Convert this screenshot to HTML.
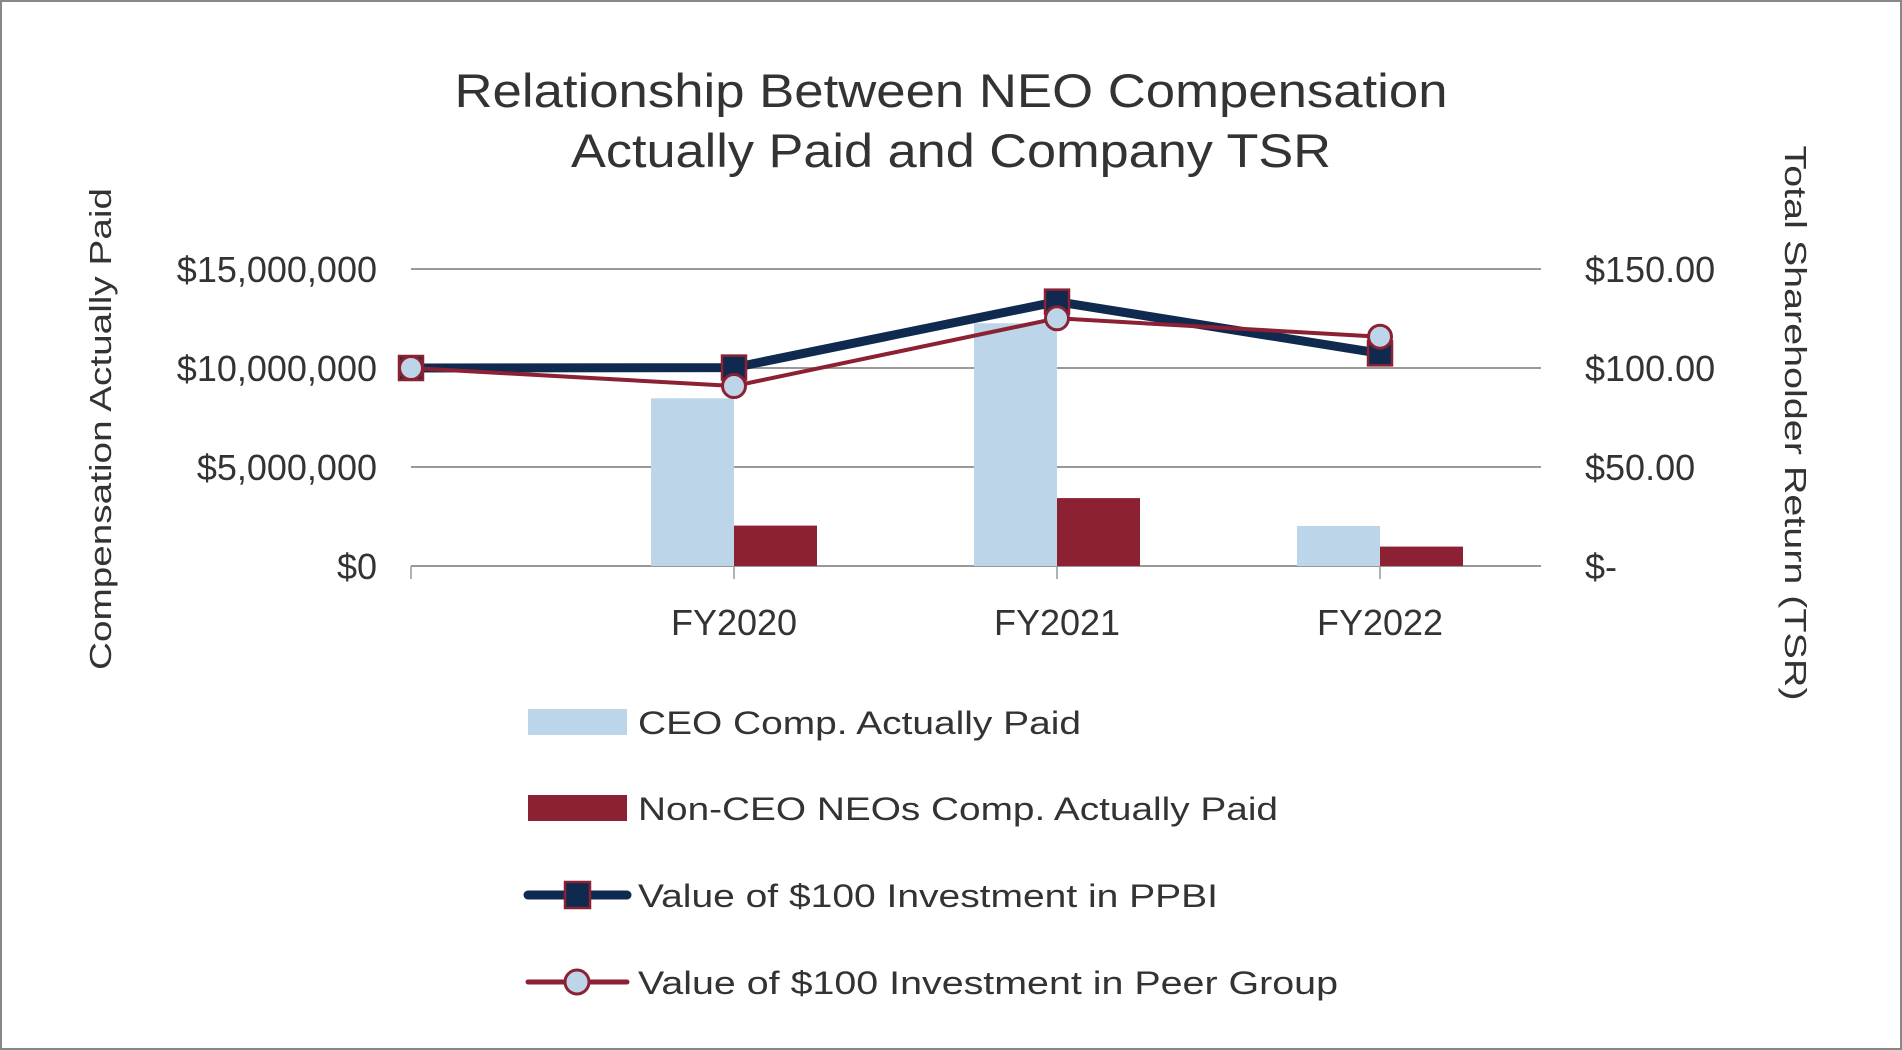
<!DOCTYPE html>
<html><head><meta charset="utf-8"><style>
html,body{margin:0;padding:0;background:#fff}
svg{display:block;font-family:"Liberation Sans",sans-serif}
</style></head><body>
<svg width="1902" height="1050" viewBox="0 0 1902 1050">
<rect x="1" y="1" width="1900" height="1048" fill="#fff" stroke="#888" stroke-width="2"/>
<text x="951" y="107" font-size="47" fill="#333" text-anchor="middle" textLength="993" lengthAdjust="spacingAndGlyphs">Relationship Between NEO Compensation</text>
<text x="951" y="167" font-size="47" fill="#333" text-anchor="middle" textLength="760" lengthAdjust="spacingAndGlyphs">Actually Paid and Company TSR</text>
<text transform="translate(111,429) rotate(-90)" font-size="31" fill="#333" text-anchor="middle" textLength="482" lengthAdjust="spacingAndGlyphs">Compensation Actually Paid</text>
<text transform="translate(1785,423) rotate(90)" font-size="31" fill="#333" text-anchor="middle" textLength="555" lengthAdjust="spacingAndGlyphs">Total Shareholder Return (TSR)</text>
<g id="plot"></g>
<g id="legend"></g>
</svg>
<script>
const categories = ["", "FY2020", "FY2021", "FY2022"];
const ceoComp = [null, 8470000, 12260000, 2020000];
const nonCeoComp = [null, 2040000, 3430000, 980000];
const ppbiTsr = [100, 100.2, 133.5, 107.4];
const peerTsr = [100, 90.9, 125.1, 115.8];
const leftTicks = [0, 5000000, 10000000, 15000000];
const leftTickLabels = ["$0", "$5,000,000", "$10,000,000", "$15,000,000"];
const rightTickLabels = ["$-", "$50.00", "$100.00", "$150.00"];

const NS = "http://www.w3.org/2000/svg";
const plot = document.getElementById("plot");
const X0 = 411, XR = 1541, STEP = 323, Y0 = 566, YTOP = 269;
const yL = v => Y0 - (v / 15000000) * (Y0 - YTOP);
const yR = v => Y0 - (v / 150) * (Y0 - YTOP);
const xC = i => X0 + STEP * i;
function mk(tag, attrs, parent) {
  const e = document.createElementNS(NS, tag);
  for (const k in attrs) e.setAttribute(k, attrs[k]);
  (parent || plot).appendChild(e);
  return e;
}
leftTicks.forEach((t, i) => {
  const g = mk("line", {x1: X0, x2: XR, y1: yL(t), y2: yL(t), stroke: "#999", "stroke-width": 2});
  
  
  const l = mk("text", {x: 377, y: yL(t) + 13, "font-size": 36, fill: "#333", "text-anchor": "end"});
  l.textContent = leftTickLabels[i];
  
  
  const r = mk("text", {x: 1585, y: yL(t) + 13, "font-size": 36, fill: "#333"});
  r.textContent = rightTickLabels[i];
  
  
});
categories.forEach((c, i) => {
  const t = mk("line", {x1: xC(i), x2: xC(i), y1: Y0, y2: Y0 + 13, stroke: "#999", "stroke-width": 1.5});
  
  
  if (c) {
    const l = mk("text", {x: xC(i), y: 635, "font-size": 36, fill: "#333", "text-anchor": "middle"});
    l.textContent = c;
    
    
  }
});
const BW = 83;
categories.forEach((c, i) => {
  if (ceoComp[i] != null) {
    const b = mk("rect", {x: xC(i) - BW, y: yL(ceoComp[i]), width: BW, height: Y0 - yL(ceoComp[i]), fill: "#bdd5e8"});
    
    
  }
  if (nonCeoComp[i] != null) {
    const b = mk("rect", {x: xC(i), y: yL(nonCeoComp[i]), width: BW, height: Y0 - yL(nonCeoComp[i]), fill: "#8b2133"});
    
    
  }
});
const pp = mk("polyline", {points: ppbiTsr.map((v, i) => xC(i) + "," + yR(v)).join(" "), fill: "none", stroke: "#0f2a4e", "stroke-width": 9, "stroke-linejoin": "round"});


ppbiTsr.forEach((v, i) => {
  const m = mk("rect", {x: xC(i) - 12, y: yR(v) - 12, width: 24, height: 24, fill: "#0f2a4e", stroke: "#8b2133", "stroke-width": 2.5});
  
  
});
const pe = mk("polyline", {points: peerTsr.map((v, i) => xC(i) + "," + yR(v)).join(" "), fill: "none", stroke: "#8b2133", "stroke-width": 4, "stroke-linejoin": "round"});


peerTsr.forEach((v, i) => {
  const m = mk("circle", {cx: xC(i), cy: yR(v), r: 11.5, fill: "#bdd5e8", stroke: "#8b2133", "stroke-width": 3});
  
  
});

const lg = document.getElementById("legend");
const legendNames = ["CEO Comp. Actually Paid", "Non-CEO NEOs Comp. Actually Paid", "Value of $100 Investment in PPBI", "Value of $100 Investment in Peer Group"];
const legendW = [443, 640, 580, 700];
const legendY = [722, 808, 895, 982];
legendNames.forEach((n, i) => {
  const cy = legendY[i];
  if (i === 0) { const s = mk("rect", {x: 528, y: cy - 13, width: 99, height: 26, fill: "#bdd5e8"}, lg);   }
  if (i === 1) { const s = mk("rect", {x: 528, y: cy - 13, width: 99, height: 26, fill: "#8b2133"}, lg);   }
  if (i === 2) {
    const s = mk("line", {x1: 528, x2: 627, y1: cy, y2: cy, stroke: "#0f2a4e", "stroke-width": 9, "stroke-linecap": "round"}, lg);
     
    const m = mk("rect", {x: 565, y: cy - 13, width: 25, height: 26, fill: "#0f2a4e", stroke: "#8b2133", "stroke-width": 2.5}, lg);
     
  }
  if (i === 3) {
    const s = mk("line", {x1: 528, x2: 627, y1: cy, y2: cy, stroke: "#8b2133", "stroke-width": 5, "stroke-linecap": "round"}, lg);
     
    const m = mk("circle", {cx: 577, cy: cy, r: 12, fill: "#bdd5e8", stroke: "#8b2133", "stroke-width": 3}, lg);
     
  }
  const t = mk("text", {x: 638, y: cy + 12, "font-size": 32, fill: "#333", textLength: legendW[i], lengthAdjust: "spacingAndGlyphs"}, lg);
  t.textContent = n;
  
  
});
</script>
</body></html>
